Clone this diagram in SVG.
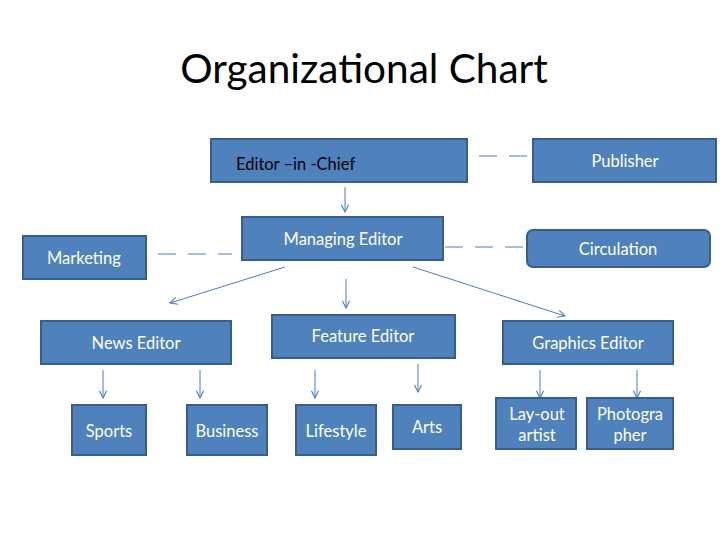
<svg xmlns="http://www.w3.org/2000/svg" width="728" height="546" viewBox="0 0 728 546">
<defs>
<style>
.box{fill:#4F81BD;stroke:#385D8A;stroke-width:2}
.t{font-family:Lato,"Open Sans","Liberation Sans",sans-serif;font-size:16.5px;fill:#fff;text-anchor:middle}
.title{font-family:Lato,"Open Sans","Liberation Sans",sans-serif;font-size:40.5px;fill:#000}
.arr{stroke:#4A7EBB;stroke-width:1;fill:none;marker-end:url(#ah)}
.dash{stroke:#4A7EBB;stroke-width:1;fill:none;stroke-dasharray:18,12}
</style>
<marker id="ah" viewBox="0 0 10 10" refX="9" refY="5" markerWidth="9" markerHeight="9" orient="auto" markerUnits="userSpaceOnUse">
<path d="M1,1 L9,5 L1,9" fill="none" stroke="#4A7EBB" stroke-width="1.2"/>
</marker>
</defs>
<rect width="728" height="546" fill="#fff"/>
<text class="title" x="364" y="83" text-anchor="middle">Organizational Chart</text>

<g id="connectors">
<line class="dash" x1="479" y1="156" x2="530" y2="156"/>
<line class="dash" x1="158" y1="254" x2="232" y2="254" stroke-dasharray="22,3,17,12"/>
<line class="dash" x1="445" y1="247" x2="524" y2="247"/>
<line class="arr" x1="345" y1="187" x2="345" y2="212"/>
<line class="arr" x1="285" y1="267" x2="170" y2="303"/>
<line class="arr" x1="346" y1="279" x2="346" y2="308"/>
<line class="arr" x1="413" y1="267" x2="565" y2="316"/>
<line class="arr" x1="103" y1="370" x2="103" y2="398"/>
<line class="arr" x1="200" y1="370" x2="200" y2="398"/>
<line class="arr" x1="315" y1="370" x2="315" y2="398"/>
<line class="arr" x1="418" y1="364" x2="418" y2="392"/>
<line class="arr" x1="540" y1="370" x2="540" y2="398"/>
<line class="arr" x1="637" y1="370" x2="637" y2="398"/>
</g>

<g id="editor-in-chief"><rect class="box" x="211" y="139" width="256" height="43"/><text class="t" x="236" y="170" style="fill:#000;text-anchor:start">Editor –in -Chief</text></g>
<g id="publisher"><rect class="box" x="533" y="139" width="183" height="43"/><text class="t" x="625" y="167">Publisher</text></g>
<g id="managing-editor"><rect class="box" x="242" y="217" width="201" height="43"/><text class="t" x="343" y="245">Managing Editor</text></g>
<g id="marketing"><rect class="box" x="23" y="236" width="123" height="43"/><text class="t" x="47" y="264" style="text-anchor:start">Marketing</text></g>
<g id="circulation"><rect class="box" x="527" y="230" width="183" height="37" rx="6"/><text class="t" x="618" y="255">Circulation</text></g>
<g id="news-editor"><rect class="box" x="41" y="321" width="190" height="43"/><text class="t" x="136" y="349">News Editor</text></g>
<g id="feature-editor"><rect class="box" x="272" y="315" width="183" height="43"/><text class="t" x="363" y="342">Feature Editor</text></g>
<g id="graphics-editor"><rect class="box" x="503" y="321" width="170" height="43"/><text class="t" x="588" y="349">Graphics Editor</text></g>
<g id="sports"><rect class="box" x="72" y="405" width="74" height="50"/><text class="t" x="109" y="437">Sports</text></g>
<g id="business"><rect class="box" x="187" y="405" width="80" height="50"/><text class="t" x="227" y="437">Business</text></g>
<g id="lifestyle"><rect class="box" x="296" y="405" width="80" height="50"/><text class="t" x="336" y="437">Lifestyle</text></g>
<g id="arts"><rect class="box" x="393" y="405" width="68" height="44"/><text class="t" x="427" y="433">Arts</text></g>
<g id="layout-artist"><rect class="box" x="496" y="398" width="80" height="51"/><text class="t" x="537" y="420">Lay-out</text><text class="t" x="537" y="441">artist</text></g>
<g id="photographer"><rect class="box" x="587" y="398" width="86" height="51"/><text class="t" x="630" y="420">Photogra</text><text class="t" x="630" y="441">pher</text></g>
</svg>
